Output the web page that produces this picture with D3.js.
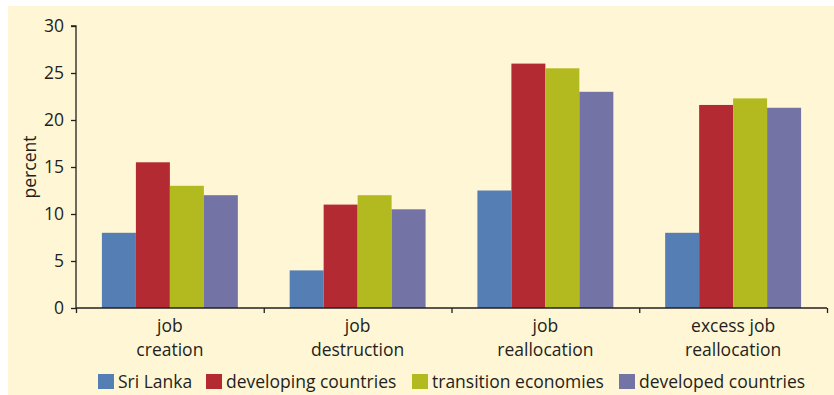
<!DOCTYPE html>
<html><head><meta charset="utf-8">
<script src="https://cdn.jsdelivr.net/npm/d3@7"></script>
<style>
html,body{margin:0;padding:0;background:#fff;}
svg{display:block;}
text{font-family:"Open Sans",sans-serif;fill:#231f20;}
</style></head>
<body>
<svg id="chart" width="834" height="395"></svg>
<script>
const categories = [["job","creation"],["job","destruction"],["job","reallocation"],["excess job","reallocation"]];
const seriesNames = ["Sri Lanka","developing countries","transition economies","developed countries"];
const sriLanka = [8, 4, 12.5, 8];
const developing = [15.5, 11, 26, 21.6];
const transition = [13, 12, 25.5, 22.3];
const developed = [12, 10.5, 23, 21.3];
const colors = ["#557eb4","#b32a33","#b2ba1f","#7373a6"];
const yTicks = [0,5,10,15,20,25,30];

const series = [sriLanka, developing, transition, developed];
const svg = d3.select("#chart");
svg.append("rect").attr("x",8).attr("y",6).attr("width",826).attr("height",389).attr("fill","#fff6d5");

const pLeft = 76, pRight = 827, pTop = 26, pBottom = 308;
const fs = 17.5;
const x0 = d3.scaleBand().domain(d3.range(categories.length)).range([pLeft,pRight]).padding(0);
const bw = x0.bandwidth();
const pad = bw*0.138;
const x1 = d3.scaleBand().domain(d3.range(series.length)).range([pad, bw-pad]).padding(0);
const y = d3.scaleLinear().domain([0,30]).range([pBottom,pTop]);

// bars
const g = svg.append("g");
categories.forEach((c,ci)=>{
  series.forEach((s,si)=>{
    g.append("rect")
      .attr("x", x0(ci)+x1(si))
      .attr("y", y(s[ci]))
      .attr("width", x1.bandwidth())
      .attr("height", y(0)-y(s[ci]))
      .attr("fill", colors[si]);
  });
});

// y axis
const yAxis = d3.axisLeft(y).tickValues(yTicks).tickSize(5).tickPadding(7);
const ya = svg.append("g").attr("transform",`translate(${pLeft},0)`).call(yAxis);
ya.select(".domain").attr("stroke","#231f20").attr("stroke-width",1.3).attr("d",`M-5,${pTop}H0V${pBottom}`);
ya.selectAll(".tick line").attr("stroke","#231f20").attr("stroke-width",1.3);
ya.selectAll(".tick text").attr("font-size",fs).attr("font-family","'Open Sans',sans-serif").attr("fill","#231f20");

// x axis
const xb = d3.scaleLinear().domain([0,categories.length]).range([pLeft,pRight]);
const xAxis = d3.axisBottom(xb).tickValues(d3.range(categories.length+1)).tickSize(5).tickFormat("");
const xa = svg.append("g").attr("transform",`translate(0,${pBottom})`).call(xAxis);
xa.select(".domain").attr("stroke","#231f20").attr("stroke-width",1.3).attr("d",`M${pLeft},0H${pRight}`);
xa.selectAll(".tick line").attr("stroke","#231f20").attr("stroke-width",1.3);

// category labels
categories.forEach((c,ci)=>{
  const t = svg.append("text").attr("x", x0(ci)+bw/2).attr("text-anchor","middle").attr("font-size",fs);
  t.append("tspan").attr("x", x0(ci)+bw/2).attr("y",332).text(c[0]);
  t.append("tspan").attr("x", x0(ci)+bw/2).attr("y",356).text(c[1]);
});

// y title
svg.append("text").attr("transform","translate(36,167) rotate(-90)").attr("text-anchor","middle").attr("font-size",fs).text("percent");

// legend
const legX = [98, 206, 412, 619];
seriesNames.forEach((n,i)=>{
  svg.append("rect").attr("x",legX[i]).attr("y",374).attr("width",16).attr("height",15).attr("fill",colors[i]);
  svg.append("text").attr("x",legX[i]+20).attr("y",388).attr("font-size",fs).text(n);
});
</script>
</body></html>
